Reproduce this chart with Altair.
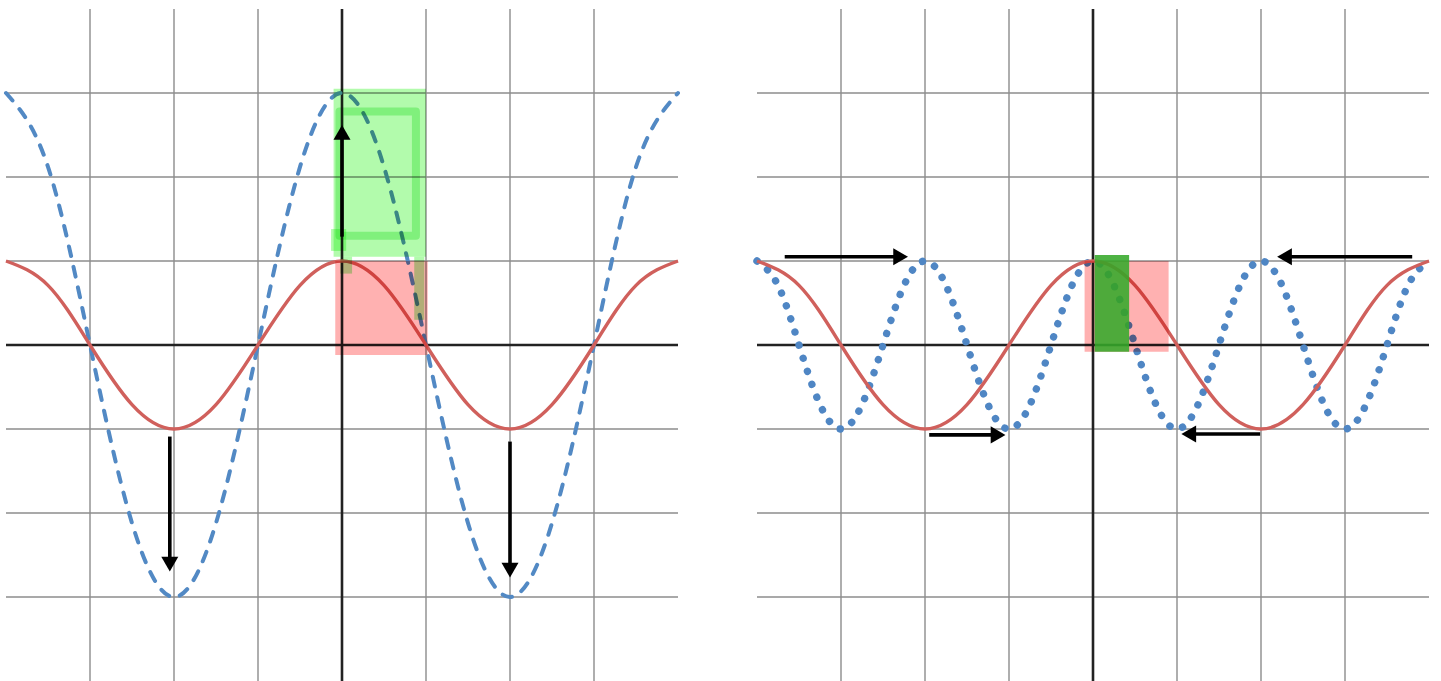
import altair as alt
import numpy as np
import pandas as pd

# ---- curve samples (x in grid units, one grid square = 1) ----
X_HALF = [-4, -3.5, -3, -2.5, -2, -1.5, -1, -0.5, 0, 0.5, 1, 1.5, 2, 2.5, 3, 3.5, 4]
# y = cos(pi x / 2)
RED_Y = [1, 0.71, 0, -0.71, -1, -0.71, 0, 0.71, 1, 0.71, 0, -0.71, -1, -0.71, 0, 0.71, 1]
# y = 3 cos(pi x / 2)
BLUE_DASH_Y = [3, 2.12, 0, -2.12, -3, -2.12, 0, 2.12, 3, 2.12, 0, -2.12, -3, -2.12, 0, 2.12, 3]

X_QUARTER = [-4, -3.75, -3.5, -3.25, -3, -2.75, -2.5, -2.25, -2, -1.75, -1.5, -1.25,
             -1, -0.75, -0.5, -0.25, 0, 0.25, 0.5, 0.75, 1, 1.25, 1.5, 1.75,
             2, 2.25, 2.5, 2.75, 3, 3.25, 3.5, 3.75, 4]
# y = cos(pi x)
BLUE_DOT_Y = [1, 0.71, 0, -0.71, -1, -0.71, 0, 0.71,
              1, 0.71, 0, -0.71, -1, -0.71, 0, 0.71,
              1, 0.71, 0, -0.71, -1, -0.71, 0, 0.71,
              1, 0.71, 0, -0.71, -1, -0.71, 0, 0.71, 1]

GRID_VALUES = [-3, -2, -1, 1, 2, 3]

# ---- highlighter boxes: x, x2, y, y2, colour ----
LEFT_PINK = dict(x=[-0.08], x2=[1.02], y=[-0.12], y2=[1.0], c=["#ffb1b1"])
LEFT_GREEN = dict(x=[-0.1, -0.02, 0.86, -0.13], x2=[1.0, 0.12, 0.98, 0.05],
                  y=[1.05, 0.85, 0.3, 1.12], y2=[3.05, 1.05, 1.05, 1.38],
                  c=["#b2fbac", "#b2fbac", "#b2fbac", "#b2fbac"])
# hand-drawn outline inside the green box
LEFT_GREEN_OUTLINE = dict(x=[-0.03], x2=[0.88], y=[1.3], y2=[2.78], c=["#b8f4b8"])
RIGHT_PINK = dict(x=[-0.1], x2=[0.9], y=[-0.08], y2=[1.0], c=["#ffb1b1"])
RIGHT_GREEN = dict(x=[0.02], x2=[0.43], y=[-0.08], y2=[1.07], c=["#36a82a"])

# ---- arrows: start point and tip ----
LEFT_ARROWS = dict(x=[0, -2.05, 2.0], y=[1.29, -1.09, -1.15],
                   tx=[0, -2.05, 2.0], ty=[2.62, -2.70, -2.77])
RIGHT_ARROWS = dict(x=[-3.67, -1.95, 1.99, 3.80], y=[1.05, -1.07, -1.06, 1.05],
                    tx=[-2.20, -1.04, 1.05, 2.19], ty=[1.05, -1.07, -1.06, 1.05])

# ---- layout: both panels share one pixel scale (84 px per grid unit) ----
UNIT = 84
LEFT_OFF = 0.0
RIGHT_OFF = 751 / UNIT          # horizontal shift of the second panel's origin
X_MIN, X_MAX = -342 / UNIT, 1099 / UNIT
Y_MIN, Y_MAX = -336 / UNIT, 345 / UNIT
WIDTH = round((X_MAX - X_MIN) * UNIT)
HEIGHT = round((Y_MAX - Y_MIN) * UNIT)

HEAD = 0.09       # triangle centre sits this far behind the tip
BASE = 0.16       # shaft stops at the triangle base

xs = alt.Scale(domain=[X_MIN, X_MAX], nice=False, zero=False)
ys = alt.Scale(domain=[Y_MIN, Y_MAX], nice=False, zero=False)


def X(field="gx"):
    return alt.X(f"{field}:Q", scale=xs, axis=None)


def Y(field="y"):
    return alt.Y(f"{field}:Q", scale=ys, axis=None)


def shifted(spec, off, cols=("x", "x2", "tx")):
    df = pd.DataFrame(spec)
    for c in cols:
        if c in df:
            df["g" + c] = df[c] + off
    return df


def grid_layers(off):
    def frame(vals):
        d = pd.DataFrame({"v": vals})
        d["gv"] = d["v"] + off
        d["a"] = -4 + off
        d["b"] = 4 + off
        d["lo"] = -4
        d["hi"] = 4
        return d

    g, z = frame(GRID_VALUES), frame([0])
    vgrid = alt.Chart(g).mark_rule(color="#8c8c8c", strokeWidth=1.4).encode(
        x=X("gv"), y=Y("lo"), y2="hi:Q")
    hgrid = alt.Chart(g).mark_rule(color="#8c8c8c", strokeWidth=1.4).encode(
        y=Y("v"), x=X("a"), x2="b:Q")
    vaxis = alt.Chart(z).mark_rule(color="#222222", strokeWidth=2.6).encode(
        x=X("gv"), y=Y("lo"), y2="hi:Q")
    haxis = alt.Chart(z).mark_rule(color="#222222", strokeWidth=2.6).encode(
        y=Y("v"), x=X("a"), x2="b:Q")
    return [vgrid, hgrid, vaxis, haxis]


def boxes(spec, off, opacity=1.0, multiply=True):
    df = shifted(spec, off)
    kw = {"opacity": opacity}
    if multiply:
        kw["blend"] = "multiply"
    return alt.Chart(df).mark_rect(**kw).encode(
        x=X("gx"), x2="gx2:Q", y=Y("y"), y2="y2:Q",
        color=alt.Color("c:N", scale=None),
    )


def outline(spec, off):
    df = shifted(spec, off)
    return alt.Chart(df).mark_rect(filled=False, strokeWidth=8, blend="multiply",
                                   strokeJoin="round").encode(
        x=X("gx"), x2="gx2:Q", y=Y("y"), y2="y2:Q",
        stroke=alt.Stroke("c:N", scale=None),
    )


def arrows(spec, off):
    df = shifted(spec, off)
    dx = df["tx"] - df["x"]
    dy = df["ty"] - df["y"]
    n = np.hypot(dx, dy)
    ux, uy = dx / n, dy / n
    df["ex"] = df["gtx"] - ux * BASE
    df["ey"] = df["ty"] - uy * BASE
    df["hx"] = df["gtx"] - ux * HEAD
    df["hy"] = df["ty"] - uy * HEAD
    df["ang"] = (np.degrees(np.arctan2(ux, uy)) + 360) % 360
    shaft = alt.Chart(df).mark_rule(color="#000000", strokeWidth=3.6).encode(
        x=X("gx"), y=Y("y"), x2="ex:Q", y2="ey:Q"
    )
    head = alt.Chart(df).mark_point(shape="triangle-up", filled=True, color="#000000",
                                    opacity=1, size=290).encode(
        x=X("hx"), y=Y("hy"), angle=alt.Angle("ang:Q", scale=None)
    )
    return [shaft, head]


def curve(xv, yv, off, **style):
    df = pd.DataFrame({"x": xv, "y": yv})
    df["gx"] = df["x"] + off
    return alt.Chart(df).mark_line(interpolate="natural", **style).encode(
        x=X("gx"), y=Y("y"), order="x:Q")


RED_STYLE = dict(color="#d0605c", strokeWidth=3.4)
DASH_STYLE = dict(color="#5289c4", strokeWidth=4, strokeDash=[10, 11], strokeCap="round")
DOT_STYLE = dict(color="#4f86c4", strokeWidth=7.4, strokeDash=[0.1, 13.6], strokeCap="round")

chart = alt.layer(
    # left panel: y = cos(pi x/2) and y = 3 cos(pi x/2)
    *grid_layers(LEFT_OFF),
    curve(X_HALF, BLUE_DASH_Y, LEFT_OFF, **DASH_STYLE),
    curve(X_HALF, RED_Y, LEFT_OFF, **RED_STYLE),
    boxes(LEFT_PINK, LEFT_OFF),
    boxes(LEFT_GREEN, LEFT_OFF),
    outline(LEFT_GREEN_OUTLINE, LEFT_OFF),
    *arrows(LEFT_ARROWS, LEFT_OFF),
    # right panel: y = cos(pi x/2) and y = cos(pi x)
    *grid_layers(RIGHT_OFF),
    curve(X_QUARTER, BLUE_DOT_Y, RIGHT_OFF, **DOT_STYLE),
    curve(X_HALF, RED_Y, RIGHT_OFF, **RED_STYLE),
    boxes(RIGHT_PINK, RIGHT_OFF),
    boxes(RIGHT_GREEN, RIGHT_OFF, opacity=0.88, multiply=False),
    *arrows(RIGHT_ARROWS, RIGHT_OFF),
).properties(
    width=WIDTH, height=HEIGHT,
    padding=0,
    autosize=alt.AutoSizeParams(type="none"),
    background="#ffffff",
).configure_view(stroke=None)

chart.save("out.html", embed_options={"renderer": "svg", "actions": False})
